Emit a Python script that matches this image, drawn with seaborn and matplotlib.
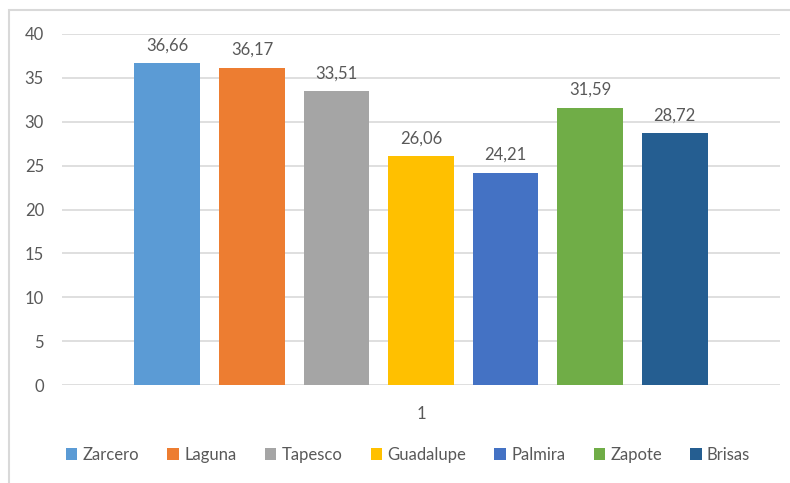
import numpy as np
import pandas as pd
import matplotlib
matplotlib.use("Agg")
import matplotlib.pyplot as plt
import matplotlib.patches as mpatches
import seaborn as sns

# Datos del gráfico
categorias = ["1"]
series = ["Zarcero", "Laguna", "Tapesco", "Guadalupe", "Palmira", "Zapote", "Brisas"]
valores = [36.66, 36.17, 33.51, 26.06, 24.21, 31.59, 28.72]
colores = ["#5B9BD5", "#ED7D31", "#A5A5A5", "#FFC000", "#4472C4", "#70AD47", "#255E91"]

df = pd.DataFrame({
    "Grupo": categorias * len(series),
    "Serie": series,
    "Valor": valores,
})

sns.set_theme(style="white")
plt.rcParams["font.family"] = ["Lato", "DejaVu Sans"]
gris = "#595959"

fig = plt.figure(figsize=(7.9, 4.83), dpi=100)
ax = fig.add_axes([62 / 790, 98 / 483, 718 / 790, 351 / 483])

sns.barplot(data=df, x="Grupo", y="Valor", hue="Serie", palette=colores,
            saturation=1, width=0.824, gap=0.22, linewidth=0, ax=ax, legend=True)

for cont in ax.containers:
    ax.bar_label(cont, labels=[f"{v:.2f}".replace(".", ",") for v in cont.datavalues],
                 padding=7, color=gris, fontsize=12)

ax.set_xlim(-0.5, 0.5)
ax.set_ylim(0, 40)
ax.set_yticks(np.arange(0, 41, 5))
ax.set_xlabel("")
ax.set_ylabel("")
ax.yaxis.grid(True, color="#d9d9d9", linewidth=1.2)
ax.set_axisbelow(True)
for s in ax.spines.values():
    s.set_visible(False)
ax.tick_params(axis="y", length=0, pad=13, labelsize=12, labelcolor=gris)
ax.tick_params(axis="x", length=0, pad=15, labelsize=12, labelcolor=gris)

handles, labels = ax.get_legend_handles_labels()
ax.legend(handles, labels, ncol=7, loc="center", bbox_to_anchor=(408 / 790, 1 - 455 / 483),
          bbox_transform=fig.transFigure, frameon=False, fontsize=12,
          handlelength=0.7, handleheight=0.7, handletextpad=0.3, columnspacing=1.7,
          labelcolor=gris)

# Borde del área del gráfico
fig.patches.append(mpatches.Rectangle((9 / 790, -0.1), 1.1, 1.1 - 10 / 483,
                                      transform=fig.transFigure, fill=False,
                                      edgecolor="#d9d9d9", linewidth=1.5))

fig.savefig("out.png", dpi=100)
